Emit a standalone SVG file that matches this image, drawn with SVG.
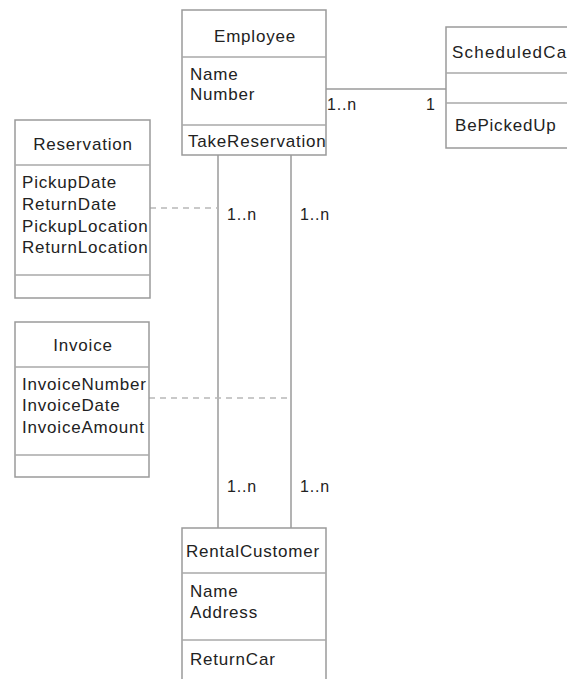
<svg xmlns="http://www.w3.org/2000/svg" width="567" height="679" viewBox="0 0 567 679">
<style>
.box{fill:#fff;stroke:#9a9a9a;stroke-width:1.5}
.div{stroke:#a8a8a8;stroke-width:1.5}
.t{font-family:"Liberation Sans",Arial,sans-serif;font-size:17px;letter-spacing:0.8px;fill:#222}
.m{font-family:"Liberation Sans",Arial,sans-serif;font-size:16px;letter-spacing:0.8px;fill:#222}
.c{text-anchor:middle}
.ln{stroke:#9a9a9a;stroke-width:1.5;fill:none}
.dash{stroke:#b8b8b8;stroke-width:1.5;stroke-dasharray:6 5;fill:none}
</style>
<rect width="567" height="679" fill="#fff"/>
<g id="connectors">
<line class="ln" x1="326" y1="89" x2="446" y2="89"/>
<line class="ln" x1="218" y1="155" x2="218" y2="528"/>
<line class="ln" x1="291" y1="155" x2="291" y2="528"/>
<line class="dash" x1="150" y1="208" x2="218" y2="208"/>
<line class="dash" x1="149" y1="398" x2="291" y2="398"/>
<text class="m" x="327" y="110">1..n</text>
<text class="m" x="426" y="110">1</text>
<text class="m" x="227" y="220">1..n</text>
<text class="m" x="300" y="220">1..n</text>
<text class="m" x="227" y="492">1..n</text>
<text class="m" x="300" y="492">1..n</text>
</g>
<g id="employee">
<rect class="box" x="182" y="10" width="144" height="145"/>
<line class="div" x1="182" y1="57" x2="326" y2="57"/>
<line class="div" x1="182" y1="125" x2="326" y2="125"/>
<text class="t c" x="255" y="42">Employee</text>
<text class="t" x="190" y="80">Name</text>
<text class="t" x="190" y="100">Number</text>
<text class="t" x="188" y="147">TakeReservation</text>
</g>
<g id="scheduledcar">
<rect class="box" x="446" y="27" width="130" height="121"/>
<line class="div" x1="446" y1="73" x2="567" y2="73"/>
<line class="div" x1="446" y1="103" x2="567" y2="103"/>
<text class="t" x="452" y="58" textLength="115">ScheduledCa</text>
<text class="t" x="455" y="131">BePickedUp</text>
</g>
<g id="reservation">
<rect class="box" x="15" y="120" width="135" height="178"/>
<line class="div" x1="15" y1="165" x2="150" y2="165"/>
<line class="div" x1="15" y1="275" x2="150" y2="275"/>
<text class="t c" x="83" y="150">Reservation</text>
<text class="t" x="22" y="188">PickupDate</text>
<text class="t" x="22" y="210">ReturnDate</text>
<text class="t" x="22" y="232">PickupLocation</text>
<text class="t" x="22" y="253">ReturnLocation</text>
</g>
<g id="invoice">
<rect class="box" x="15" y="322" width="134" height="155"/>
<line class="div" x1="15" y1="367" x2="149" y2="367"/>
<line class="div" x1="15" y1="455" x2="149" y2="455"/>
<text class="t c" x="83" y="351">Invoice</text>
<text class="t" x="22" y="390">InvoiceNumber</text>
<text class="t" x="22" y="411">InvoiceDate</text>
<text class="t" x="22" y="433">InvoiceAmount</text>
</g>
<g id="rentalcustomer">
<rect class="box" x="182" y="528" width="144" height="160"/>
<line class="div" x1="182" y1="573" x2="326" y2="573"/>
<line class="div" x1="182" y1="640" x2="326" y2="640"/>
<text class="t" x="186" y="557">RentalCustomer</text>
<text class="t" x="190" y="597">Name</text>
<text class="t" x="190" y="618">Address</text>
<text class="t" x="190" y="665">ReturnCar</text>
</g>
</svg>
